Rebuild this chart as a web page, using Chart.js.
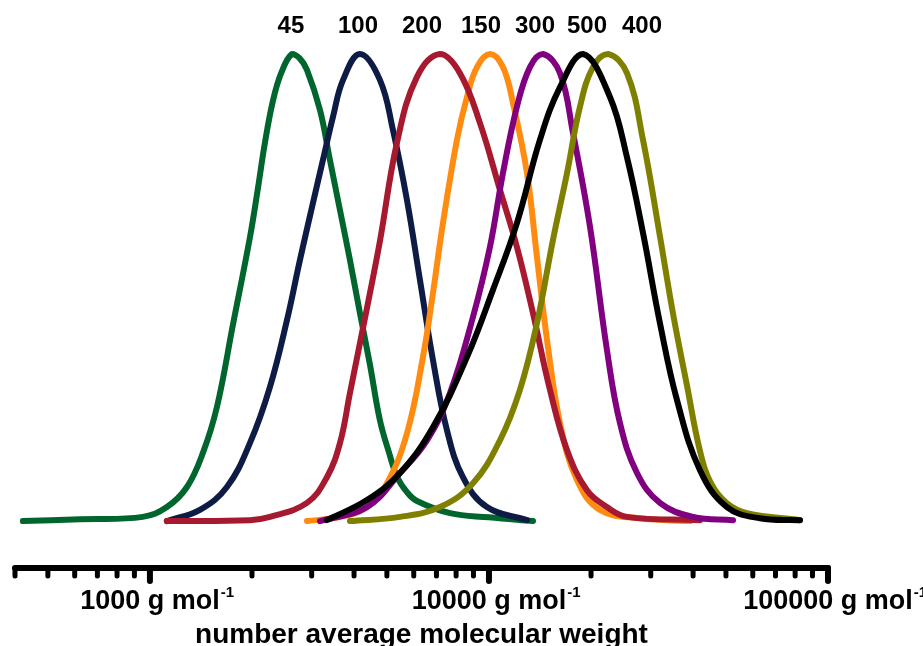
<!DOCTYPE html>
<html>
<head>
<meta charset="utf-8">
<script src="https://cdn.jsdelivr.net/npm/chart.js@4"></script>
<style>
  html, body { margin: 0; padding: 0; background: #fff; }
  #wrap { width: 923px; height: 646px; position: relative; }
</style>
</head>
<body>
<div id="wrap"><canvas id="mwChart"></canvas></div>
<script>
// molecular weight (g/mol) and normalised signal for each sample
const mw45 = [422, 622, 953, 1122, 1286, 1433, 1576, 1757, 1972, 2083, 2184, 2306, 2441, 2624, 2770, 2905, 3174, 3396, 3635, 3890, 4164, 4456, 4771, 5081, 5354, 5731, 6133, 7674, 10000, 13487];
const h45 = [0, 0.004, 0.009, 0.030, 0.073, 0.146, 0.244, 0.420, 0.607, 0.713, 0.810, 0.900, 0.960, 1.0, 0.990, 0.966, 0.880, 0.773, 0.666, 0.559, 0.445, 0.335, 0.215, 0.145, 0.095, 0.062, 0.043, 0.017, 0.008, 0];

const mw100 = [1122, 1404, 1687, 1972, 2259, 2536, 2770, 3026, 3238, 3466, 3710, 4164, 4771, 5211, 5731, 6259, 6836, 7516, 8380, 9865, 12946];
const h100 = [0, 0.024, 0.073, 0.167, 0.287, 0.430, 0.559, 0.681, 0.773, 0.865, 0.944, 1.0, 0.944, 0.837, 0.687, 0.516, 0.345, 0.195, 0.094, 0.030, 0.002];

const mw200 = [1122, 1972, 2259, 2905, 3327, 3635, 3890, 4164, 4456, 4771, 5354, 6133, 7169, 8212, 9408, 10776, 12091, 13487, 15132, 16991, 19456, 22288, 25531, 41920];
const h200 = [0, 0.002, 0.009, 0.039, 0.094, 0.167, 0.274, 0.381, 0.488, 0.600, 0.810, 0.951, 1.0, 0.959, 0.852, 0.709, 0.587, 0.445, 0.281, 0.152, 0.066, 0.030, 0.009, 0.002];

const mw150 = [2905, 3635, 4366, 5002, 5731, 6387, 6836, 7317, 8045, 8613, 9218, 10068, 10997, 11771, 12946, 13856, 14832, 16199, 18183, 21258, 27890, 39160];
const h150 = [0, 0.009, 0.030, 0.081, 0.188, 0.351, 0.488, 0.638, 0.816, 0.908, 0.972, 1.0, 0.972, 0.895, 0.745, 0.565, 0.388, 0.210, 0.088, 0.024, 0.006, 0];

const mw300 = [3174, 4366, 5465, 6563, 7674, 8971, 10068, 10997, 12091, 13210, 14427, 16199, 17694, 19862, 22288, 24343, 27330, 31938, 39970, 52470];
const h300 = [0, 0.030, 0.103, 0.173, 0.274, 0.437, 0.587, 0.745, 0.887, 0.972, 1.0, 0.959, 0.831, 0.630, 0.366, 0.210, 0.103, 0.039, 0.009, 0.002];

const mw500 = [3327, 4366, 5465, 6836, 8613, 10275, 12091, 14135, 16199, 18937, 22745, 25531, 28467, 31938, 35860, 41920, 50370, 63020, 82680];
const h500 = [0.002, 0.045, 0.103, 0.201, 0.351, 0.495, 0.638, 0.816, 0.929, 1.0, 0.908, 0.779, 0.617, 0.424, 0.259, 0.109, 0.030, 0.006, 0.002];

const mw400 = [3890, 5465, 7169, 8971, 10776, 12340, 13856, 15447, 16991, 18554, 20270, 22440, 25531, 28467, 31938, 34890, 38380, 41920, 45240, 50370, 57690, 82680];
const h400 = [0, 0.009, 0.030, 0.081, 0.173, 0.281, 0.424, 0.602, 0.745, 0.887, 0.972, 1.0, 0.959, 0.816, 0.610, 0.445, 0.290, 0.150, 0.080, 0.038, 0.017, 0.002];

// peak annotations
const peakLabels = ['45', '100', '200', '150', '300', '500', '400'];
const peakLabelMw = [2606, 4108, 6345, 9471, 13670, 19456, 28270];

// x axis
const xMin = 400;
const xMax = 100000;
const majorTicks = [1000, 10000, 100000];
const tickLabels = ['1000', '10000', '100000'];
const minorTicks = [400, 500, 600, 700, 800, 900, 2000, 3000, 4000, 5000, 6000, 7000, 8000, 9000,
  20000, 30000, 40000, 50000, 60000, 70000, 80000, 90000];
const axisTitle = 'number average molecular weight';

const FONT = '"Liberation Sans", Arial, Helvetica, sans-serif';

function toPoints(mw, h) {
  return mw.map((m, i) => ({ x: m, y: h[i] }));
}

function line(label, mw, h, color) {
  return {
    label: label,
    data: toPoints(mw, h),
    borderColor: color,
    borderWidth: 6,
    borderCapStyle: 'round',
    borderJoinStyle: 'round',
    pointRadius: 0,
    fill: false,
    tension: 0.4,
    clip: false
  };
}

// first dataset is drawn on top
const datasets = [
  line('500', mw500, h500, '#000000'),
  line('400', mw400, h400, '#808000'),
  line('300', mw300, h300, '#800080'),
  line('200', mw200, h200, '#A6192E'),
  line('150', mw150, h150, '#FF8C10'),
  line('100', mw100, h100, '#0D1B45'),
  line('45', mw45, h45, '#00662E')
];

const axisPlugin = {
  id: 'mwAxis',
  afterDraw(chart) {
    const ctx = chart.ctx;
    const xs = chart.scales.x;
    const area = chart.chartArea;
    const axisY = area.bottom + 3;

    ctx.save();
    ctx.strokeStyle = '#000';
    ctx.fillStyle = '#000';
    ctx.lineCap = 'round';

    ctx.lineWidth = 6;
    ctx.beginPath();
    ctx.moveTo(xs.getPixelForValue(xMin), axisY);
    ctx.lineTo(xs.getPixelForValue(xMax), axisY);
    ctx.stroke();

    ctx.lineWidth = 5;
    minorTicks.forEach(v => {
      const px = xs.getPixelForValue(v);
      ctx.beginPath();
      ctx.moveTo(px, axisY);
      ctx.lineTo(px, axisY + 8);
      ctx.stroke();
    });

    ctx.lineWidth = 6;
    majorTicks.forEach(v => {
      const px = xs.getPixelForValue(v);
      ctx.beginPath();
      ctx.moveTo(px, axisY);
      ctx.lineTo(px, axisY + 13);
      ctx.stroke();
    });

    // tick labels with superscript -1
    ctx.textBaseline = 'alphabetic';
    ctx.textAlign = 'left';
    majorTicks.forEach((v, i) => {
      const px = xs.getPixelForValue(v);
      const main = tickLabels[i] + ' g mol';
      ctx.font = 'bold 27px ' + FONT;
      const w = ctx.measureText(main).width;
      ctx.fillText(main, px - w / 2, 609);
      ctx.font = 'bold 15px ' + FONT;
      ctx.fillText('-1', px + w / 2 + 1, 597);
    });

    ctx.font = 'bold 28px ' + FONT;
    ctx.textAlign = 'center';
    ctx.fillText(axisTitle, (area.left + area.right) / 2, 643);

    ctx.font = 'bold 24px ' + FONT;
    peakLabels.forEach((t, i) => {
      ctx.fillText(t, xs.getPixelForValue(peakLabelMw[i]), 33);
    });
    ctx.restore();
  }
};

new Chart(document.getElementById('mwChart').getContext('2d'), {
  type: 'line',
  data: { datasets: datasets },
  options: {
    responsive: true,
    maintainAspectRatio: false,
    animation: false,
    layout: { padding: { left: 15, right: 95, top: 54, bottom: 81 } },
    plugins: {
      legend: { display: false },
      tooltip: { enabled: false }
    },
    scales: {
      x: { type: 'logarithmic', min: xMin, max: xMax, display: false },
      y: { type: 'linear', min: -0.094, max: 1, display: false }
    }
  },
  plugins: [axisPlugin]
});
</script>
</body>
</html>
